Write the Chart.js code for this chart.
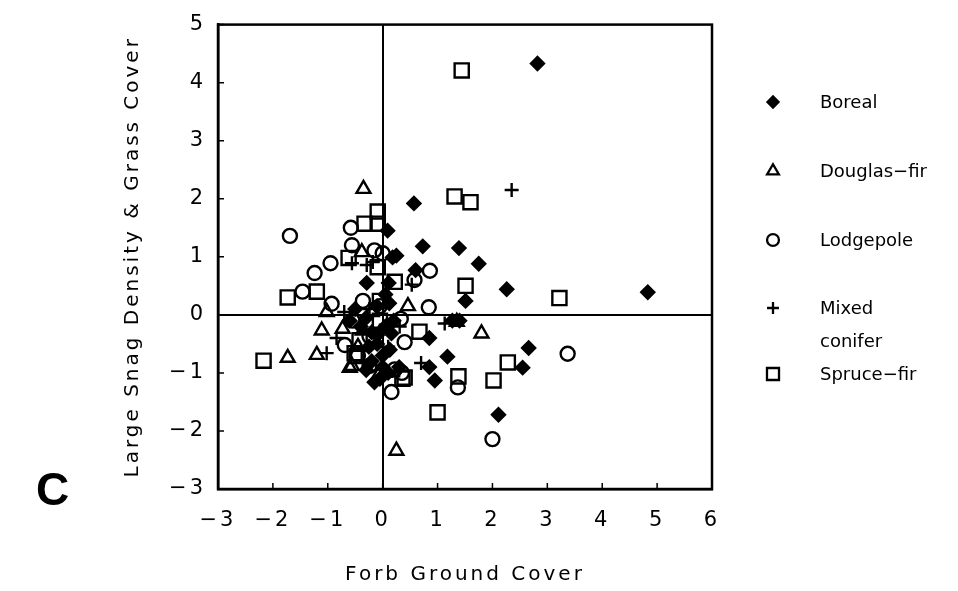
<!DOCTYPE html>
<html>
<head>
<meta charset="utf-8">
<script src="https://cdn.jsdelivr.net/npm/chart.js@4/dist/chart.umd.min.js"></script>
<style>
  html, body { margin: 0; padding: 0; background: #fff; }
  #wrap { position: relative; width: 958px; height: 591px; }
</style>
</head>
<body>
<div id="wrap"><canvas id="scatterChart"></canvas></div>
<script>
// Axis ranges / tick labels
const xTicks = [-3, -2, -1, 0, 1, 2, 3, 4, 5, 6];
const yTicks = [-3, -2, -1, 0, 1, 2, 3, 4, 5];

// Series values: [forb cover, snag & grass cover]
const boreal = [
  [2.82, 4.33], [4.83, 0.39], [0.57, 1.92], [0.73, 1.18], [1.39, 1.15], [1.75, 0.88],
  [2.26, 0.44], [1.51, 0.24], [2.66, -0.57], [2.55, -0.91], [1.18, -0.72], [0.95, -1.13],
  [2.11, -1.72], [0.85, -0.9], [0.85, -0.4], [0.16, -0.32], [0.6, 0.77], [0.18, 0.99],
  [1.27, -0.1], [1.4, -0.1], [0.09, 1.45], [0.25, 1.02], [-0.29, 0.55], [0.11, 0.55],
  [0.05, 0.35], [-0.5, 0.1], [-0.3, -0.05], [-0.2, -0.3], [-0.1, -0.5], [0, -0.7],
  [-0.2, -0.8], [0.05, -0.2], [-0.4, -0.2], [-0.1, 0.15], [0.1, -1.0], [-0.05, -1.1],
  [-0.3, -0.95], [-0.6, -0.1], [0.3, -0.9], [-0.15, -1.16], [0.13, -0.6], [-0.1, -0.35],
  [0.2, -0.1], [0.12, 0.2], [0, -0.9], [-0.25, -0.55]
];
const douglasFir = [
  [-0.35, 2.17], [0.25, -2.34], [-1.73, -0.74], [-1.2, -0.69], [-1.11, -0.27], [-0.73, -0.24],
  [-0.6, -0.91], [0.46, 0.15], [-1.02, 0.05], [-0.38, 1.08], [1.8, -0.32], [1.35, -0.12],
  [0.04, -1.0], [-0.36, -0.27], [-0.56, -0.88], [-0.05, -1.0], [-0.45, -0.55], [-0.2, 0.05]
];
const lodgepole = [
  [-1.69, 1.36], [-0.58, 1.5], [-0.56, 1.2], [-0.15, 1.11], [0, 1.06], [-0.95, 0.89],
  [-1.24, 0.72], [-1.46, 0.4], [-0.93, 0.19], [-0.36, 0.24], [0.86, 0.76], [0.84, 0.13],
  [0.58, 0.6], [0.4, -0.47], [0.16, -1.33], [0.22, -0.94], [1.37, -1.25], [3.37, -0.67],
  [2.0, -2.14], [0.33, -0.07], [-0.69, -0.52], [-0.24, -0.37], [-0.55, -0.1], [-0.24, -0.88],
  [0.35, -1.0], [-0.05, 0.15], [-0.45, -0.7]
];
const mixedConifer = [
  [2.35, 2.15], [-1.02, -0.66], [-0.84, -0.4], [-0.56, 0.89], [-0.18, 0.91], [0.53, 0.52],
  [1.13, -0.15], [0.31, -0.2], [-0.29, 0.86], [0.7, -0.83], [-0.05, -0.27], [-0.24, 0.1],
  [0.3, -0.96], [-0.7, 0.05], [0.1, -0.55]
];
const spruceFir = [
  [1.44, 4.21], [1.31, 2.04], [1.6, 1.94], [-0.09, 1.78], [-0.33, 1.57], [-0.09, 1.57],
  [-0.62, 0.98], [-0.09, 0.82], [-1.73, 0.3], [-1.2, 0.4], [-0.05, 0.24], [0.22, 0.57],
  [1.51, 0.5], [3.22, 0.29], [0.67, -0.29], [2.28, -0.82], [2.02, -1.13], [1.38, -1.06],
  [1.0, -1.68], [0.4, -1.08], [-2.17, -0.79], [-0.51, -0.66], [-0.47, -0.71], [-0.42, -0.44],
  [0.36, -1.1], [-0.05, -0.1]
];

const FONT = '"DejaVu Sans", "Liberation Sans", sans-serif';
const toPts = arr => arr.map(p => ({ x: p[0], y: p[1] }));
const minus = v => String(v).replace('-', '\u2212');

const series = [
  { label: 'Boreal', data: boreal, style: 'rectRot', r: 6.5, fill: '#000' },
  { label: 'Douglas-fir', data: douglasFir, style: 'triangle', r: 8, fill: 'rgba(0,0,0,0)' },
  { label: 'Lodgepole', data: lodgepole, style: 'circle', r: 7, fill: 'rgba(0,0,0,0)' },
  { label: 'Mixed conifer', data: mixedConifer, style: 'cross', r: 7, fill: 'rgba(0,0,0,0)' },
  { label: 'Spruce-fir', data: spruceFir, style: 'rect', r: 10, fill: 'rgba(0,0,0,0)' }
];

// legend rows: text lines, row centre
const legendRows = [
  { lines: ['Boreal'], y: 102 },
  { lines: ['Douglas\u2212fir'], y: 171 },
  { lines: ['Lodgepole'], y: 240 },
  { lines: ['Mixed', 'conifer'], y: 308 },
  { lines: ['Spruce\u2212fir'], y: 374 }
];

const framePlugin = {
  id: 'frame',
  beforeDraw(chart) {
    chart.ctx.letterSpacing = '3px';
  },
  afterDraw(chart) {
    const { ctx, chartArea: a, scales: { x, y } } = chart;
    ctx.save();
    ctx.letterSpacing = '0px';
    ctx.strokeStyle = '#000';
    ctx.lineWidth = 2.5;
    ctx.strokeRect(a.left, a.top, a.right - a.left, a.bottom - a.top);

    // short inward ticks
    ctx.lineWidth = 1.5;
    ctx.beginPath();
    x.ticks.forEach(t => {
      const px = x.getPixelForValue(t.value);
      ctx.moveTo(px, a.bottom); ctx.lineTo(px, a.bottom - 6);
    });
    y.ticks.forEach(t => {
      const py = y.getPixelForValue(t.value);
      ctx.moveTo(a.left, py); ctx.lineTo(a.left + 6, py);
    });
    ctx.stroke();

    // legend
    ctx.fillStyle = '#000';
    ctx.font = '18px ' + FONT;
    ctx.textBaseline = 'middle';
    ctx.textAlign = 'left';
    legendRows.forEach((row, i) => {
      const s = series[i];
      ctx.save();
      ctx.fillStyle = s.fill;
      ctx.strokeStyle = '#000';
      ctx.lineWidth = 2.3;
      Chart.helpers.drawPoint(ctx, { pointStyle: s.style, radius: s.r * 0.85, borderWidth: 2.3, rotation: 0 }, 773, row.y);
      ctx.restore();
      row.lines.forEach((txt, j) => ctx.fillText(txt, 820, row.y + 1 + j * 33));
    });

    // panel letter
    ctx.font = 'bold 46px "Liberation Sans", sans-serif';
    ctx.textBaseline = 'alphabetic';
    ctx.fillText('C', 36, 505);
    ctx.restore();
  }
};

new Chart(document.getElementById('scatterChart').getContext('2d'), {
  type: 'scatter',
  data: {
    datasets: series.map(s => ({
      label: s.label,
      data: toPts(s.data),
      pointStyle: s.style,
      pointRadius: s.r,
      pointHoverRadius: s.r,
      pointBorderWidth: 2.4,
      borderColor: '#000',
      backgroundColor: s.fill
    }))
  },
  options: {
    responsive: true,
    maintainAspectRatio: false,
    animation: false,
    devicePixelRatio: 1,
    layout: { padding: { left: 117, right: 246, top: 14, bottom: 0 } },
    plugins: { legend: { display: false }, tooltip: { enabled: false } },
    scales: {
      x: {
        type: 'linear',
        min: xTicks[0],
        max: xTicks[xTicks.length - 1],
        afterBuildTicks: s => { s.ticks = xTicks.map(v => ({ value: v })); },
        afterFit: s => { s.height = 102; },
        ticks: { color: '#000', font: { size: 21, family: FONT }, padding: 19, callback: minus },
        grid: {
          drawTicks: false,
          color: c => (c.tick && c.tick.value === 0 ? '#000' : 'rgba(0,0,0,0)'),
          lineWidth: 2
        },
        border: { color: '#000', width: 2.5 },
        title: { display: true, text: 'Forb Ground Cover', color: '#000', font: { size: 20, family: FONT }, padding: { top: 4, bottom: 4 } }
      },
      y: {
        type: 'linear',
        min: yTicks[0],
        max: yTicks[yTicks.length - 1],
        afterBuildTicks: s => { s.ticks = yTicks.map(v => ({ value: v })); },
        afterFit: s => { s.width = 101; },
        ticks: { color: '#000', font: { size: 21, family: FONT }, padding: 12, callback: minus },
        grid: {
          drawTicks: false,
          color: c => (c.tick && c.tick.value === 0 ? '#000' : 'rgba(0,0,0,0)'),
          lineWidth: 2
        },
        border: { color: '#000', width: 2.5 },
        title: { display: true, text: 'Large Snag Density & Grass Cover', color: '#000', font: { size: 20, family: FONT }, padding: { top: 4, bottom: 4 } }
      }
    }
  },
  plugins: [framePlugin]
});
</script>
</body>
</html>
